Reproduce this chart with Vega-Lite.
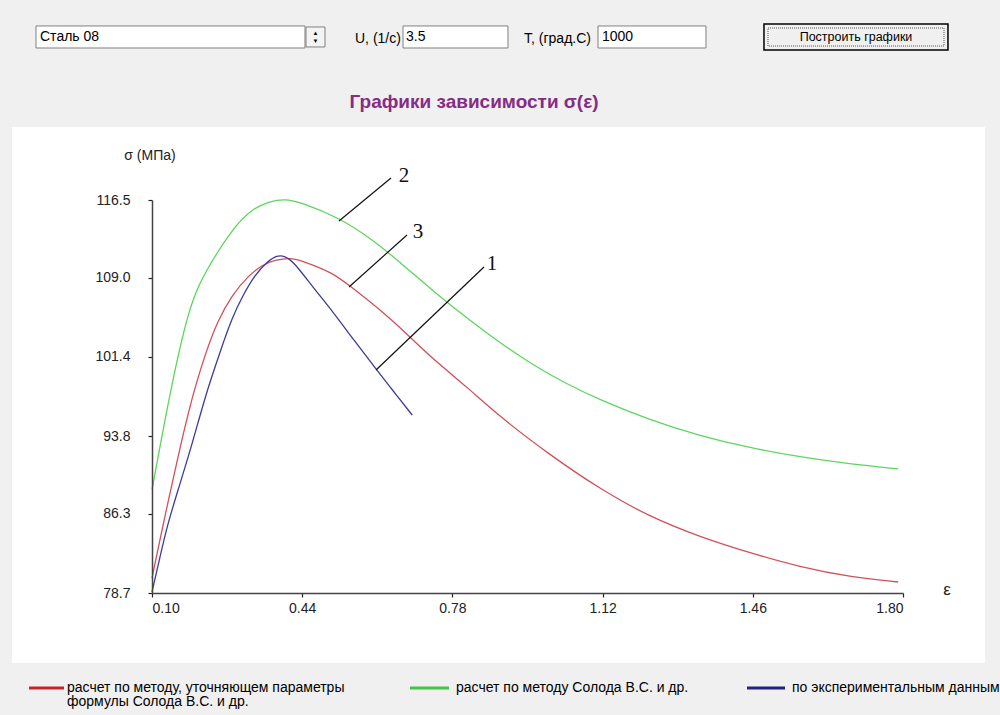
{
  "$schema": "https://vega.github.io/schema/vega-lite/v6.json",
  "width": 751,
  "height": 393,
  "autosize": {"type": "none"},
  "padding": {"left": 152, "top": 200, "right": 97, "bottom": 122},
  "background": "#f0f0f0",
  "config": {"view": {"stroke": null}, "font": "Liberation Sans"},
  "data": {"values": [{}]},
  "datasets": {
    "curves": [
      {"curve": "2", "eps": 0.100, "sigma": 88.61},
      {"curve": "2", "eps": 0.1136, "sigma": 91.78},
      {"curve": "2", "eps": 0.1294, "sigma": 95.34},
      {"curve": "2", "eps": 0.1453, "sigma": 98.80},
      {"curve": "2", "eps": 0.1634, "sigma": 102.36},
      {"curve": "2", "eps": 0.1815, "sigma": 105.44},
      {"curve": "2", "eps": 0.1951, "sigma": 107.17},
      {"curve": "2", "eps": 0.2087, "sigma": 108.52},
      {"curve": "2", "eps": 0.2268, "sigma": 109.96},
      {"curve": "2", "eps": 0.2471, "sigma": 111.40},
      {"curve": "2", "eps": 0.2879, "sigma": 114.00},
      {"curve": "2", "eps": 0.3264, "sigma": 115.63},
      {"curve": "2", "eps": 0.3671, "sigma": 116.40},
      {"curve": "2", "eps": 0.4011, "sigma": 116.60},
      {"curve": "2", "eps": 0.435, "sigma": 116.31},
      {"curve": "2", "eps": 0.526, "sigma": 114.77},
      {"curve": "2", "eps": 0.600, "sigma": 112.65},
      {"curve": "2", "eps": 0.661, "sigma": 110.54},
      {"curve": "2", "eps": 0.736, "sigma": 107.75},
      {"curve": "2", "eps": 0.813, "sigma": 105.15},
      {"curve": "2", "eps": 0.888, "sigma": 102.75},
      {"curve": "2", "eps": 0.962, "sigma": 100.63},
      {"curve": "2", "eps": 1.039, "sigma": 98.80},
      {"curve": "2", "eps": 1.114, "sigma": 97.26},
      {"curve": "2", "eps": 1.227, "sigma": 95.34},
      {"curve": "2", "eps": 1.341, "sigma": 93.80},
      {"curve": "2", "eps": 1.454, "sigma": 92.65},
      {"curve": "2", "eps": 1.567, "sigma": 91.78},
      {"curve": "2", "eps": 1.680, "sigma": 91.11},
      {"curve": "2", "eps": 1.789, "sigma": 90.63},
      {"curve": "3", "eps": 0.100, "sigma": 80.14},
      {"curve": "3", "eps": 0.1136, "sigma": 82.93},
      {"curve": "3", "eps": 0.1294, "sigma": 86.11},
      {"curve": "3", "eps": 0.1453, "sigma": 89.18},
      {"curve": "3", "eps": 0.1634, "sigma": 92.65},
      {"curve": "3", "eps": 0.1815, "sigma": 95.92},
      {"curve": "3", "eps": 0.1996, "sigma": 98.80},
      {"curve": "3", "eps": 0.2200, "sigma": 101.59},
      {"curve": "3", "eps": 0.2471, "sigma": 104.77},
      {"curve": "3", "eps": 0.2811, "sigma": 107.36},
      {"curve": "3", "eps": 0.3173, "sigma": 109.19},
      {"curve": "3", "eps": 0.3490, "sigma": 110.25},
      {"curve": "3", "eps": 0.3784, "sigma": 110.73},
      {"curve": "3", "eps": 0.4124, "sigma": 110.92},
      {"curve": "3", "eps": 0.435, "sigma": 110.73},
      {"curve": "3", "eps": 0.510, "sigma": 109.50},
      {"curve": "3", "eps": 0.548, "sigma": 108.23},
      {"curve": "3", "eps": 0.623, "sigma": 105.73},
      {"curve": "3", "eps": 0.684, "sigma": 103.33},
      {"curve": "3", "eps": 0.736, "sigma": 101.20},
      {"curve": "3", "eps": 0.813, "sigma": 98.51},
      {"curve": "3", "eps": 0.888, "sigma": 95.63},
      {"curve": "3", "eps": 1.001, "sigma": 91.97},
      {"curve": "3", "eps": 1.114, "sigma": 88.70},
      {"curve": "3", "eps": 1.227, "sigma": 86.01},
      {"curve": "3", "eps": 1.341, "sigma": 84.09},
      {"curve": "3", "eps": 1.454, "sigma": 82.55},
      {"curve": "3", "eps": 1.567, "sigma": 81.20},
      {"curve": "3", "eps": 1.680, "sigma": 80.24},
      {"curve": "3", "eps": 1.789, "sigma": 79.76},
      {"curve": "1", "eps": 0.100, "sigma": 78.80},
      {"curve": "1", "eps": 0.118, "sigma": 82.16},
      {"curve": "1", "eps": 0.136, "sigma": 85.43},
      {"curve": "1", "eps": 0.159, "sigma": 88.61},
      {"curve": "1", "eps": 0.182, "sigma": 91.78},
      {"curve": "1", "eps": 0.204, "sigma": 95.05},
      {"curve": "1", "eps": 0.225, "sigma": 98.22},
      {"curve": "1", "eps": 0.254, "sigma": 101.88},
      {"curve": "1", "eps": 0.281, "sigma": 105.15},
      {"curve": "1", "eps": 0.306, "sigma": 107.36},
      {"curve": "1", "eps": 0.333, "sigma": 109.29},
      {"curve": "1", "eps": 0.360, "sigma": 110.54},
      {"curve": "1", "eps": 0.383, "sigma": 111.20},
      {"curve": "1", "eps": 0.401, "sigma": 111.10},
      {"curve": "1", "eps": 0.419, "sigma": 110.63},
      {"curve": "1", "eps": 0.464, "sigma": 108.13},
      {"curve": "1", "eps": 0.510, "sigma": 105.73},
      {"curve": "1", "eps": 0.555, "sigma": 103.13},
      {"curve": "1", "eps": 0.609, "sigma": 100.15},
      {"curve": "1", "eps": 0.646, "sigma": 98.13},
      {"curve": "1", "eps": 0.689, "sigma": 95.82}
    ],
    "leaders": [
      {"label": "2", "x1": 0.5233, "y1": 114.48, "x2": 0.641, "y2": 118.62, "lx": 0.6704, "ly": 118.81},
      {"label": "3", "x1": 0.5459, "y1": 108.13, "x2": 0.6772, "y2": 113.13, "lx": 0.7021, "ly": 113.42},
      {"label": "1", "x1": 0.6071, "y1": 100.15, "x2": 0.8515, "y2": 110.06, "lx": 0.8696, "ly": 110.34}
    ]
  },
  "layer": [
    {
      "mark": {"type": "rect", "color": "white"},
      "encoding": {
        "x": {"datum": -0.2169, "type": "quantitative", "scale": {"domain": [0.1, 1.8], "nice": false, "zero": false}},
        "x2": {"datum": 1.9856},
        "y": {"datum": 123.52, "type": "quantitative", "scale": {"domain": [78.7, 116.5], "nice": false, "zero": false}},
        "y2": {"datum": 71.97}
      }
    },
    {
      "mark": {"type": "rect", "fill": "white", "stroke": "#808080", "strokeWidth": 1},
      "encoding": {
        "x": {"datum": -0.1626, "type": "quantitative", "scale": {"domain": [0.1, 1.8], "nice": false, "zero": false}},
        "x2": {"datum": 0.4463},
        "y": {"datum": 133.24, "type": "quantitative", "scale": {"domain": [78.7, 116.5], "nice": false, "zero": false}},
        "y2": {"datum": 131.12}
      }
    },
    {
      "mark": {"type": "rect", "fill": "#f4f4f4", "stroke": "#808080", "strokeWidth": 1},
      "encoding": {
        "x": {"datum": 0.4486, "type": "quantitative", "scale": {"domain": [0.1, 1.8], "nice": false, "zero": false}},
        "x2": {"datum": 0.4916},
        "y": {"datum": 133.14, "type": "quantitative", "scale": {"domain": [78.7, 116.5], "nice": false, "zero": false}},
        "y2": {"datum": 131.22}
      }
    },
    {
      "mark": {"type": "rect", "fill": "white", "stroke": "#808080", "strokeWidth": 1},
      "encoding": {
        "x": {"datum": 0.6682, "type": "quantitative", "scale": {"domain": [0.1, 1.8], "nice": false, "zero": false}},
        "x2": {"datum": 0.9058},
        "y": {"datum": 133.24, "type": "quantitative", "scale": {"domain": [78.7, 116.5], "nice": false, "zero": false}},
        "y2": {"datum": 131.12}
      }
    },
    {
      "mark": {"type": "rect", "fill": "white", "stroke": "#808080", "strokeWidth": 1},
      "encoding": {
        "x": {"datum": 1.1096, "type": "quantitative", "scale": {"domain": [0.1, 1.8], "nice": false, "zero": false}},
        "x2": {"datum": 1.354},
        "y": {"datum": 133.24, "type": "quantitative", "scale": {"domain": [78.7, 116.5], "nice": false, "zero": false}},
        "y2": {"datum": 131.12}
      }
    },
    {
      "mark": {"type": "rect", "fill": "#f0f0f0", "stroke": "#000000", "strokeWidth": 1.5},
      "encoding": {
        "x": {"datum": 1.4853, "type": "quantitative", "scale": {"domain": [0.1, 1.8], "nice": false, "zero": false}},
        "x2": {"datum": 1.9018},
        "y": {"datum": 133.43, "type": "quantitative", "scale": {"domain": [78.7, 116.5], "nice": false, "zero": false}},
        "y2": {"datum": 130.93}
      }
    },
    {
      "mark": {"type": "rect", "fill": null, "stroke": "#555555", "strokeWidth": 1, "strokeDash": [1, 1]},
      "encoding": {
        "x": {"datum": 1.4944, "type": "quantitative", "scale": {"domain": [0.1, 1.8], "nice": false, "zero": false}},
        "x2": {"datum": 1.8928},
        "y": {"datum": 133.04, "type": "quantitative", "scale": {"domain": [78.7, 116.5], "nice": false, "zero": false}},
        "y2": {"datum": 131.31}
      }
    },
    {
      "mark": {"type": "text", "text": "Сталь 08", "align": "left", "baseline": "middle", "fontSize": 14, "color": "#000000"},
      "encoding": {
        "x": {"datum": -0.1535, "type": "quantitative", "scale": {"domain": [0.1, 1.8], "nice": false, "zero": false}},
        "y": {"datum": 132.18, "type": "quantitative", "scale": {"domain": [78.7, 116.5], "nice": false, "zero": false}}
      }
    },
    {
      "mark": {"type": "text", "text": "▲", "align": "center", "baseline": "middle", "fontSize": 6, "color": "#000000"},
      "encoding": {
        "x": {"datum": 0.4701, "type": "quantitative", "scale": {"domain": [0.1, 1.8], "nice": false, "zero": false}},
        "y": {"datum": 132.56, "type": "quantitative", "scale": {"domain": [78.7, 116.5], "nice": false, "zero": false}}
      }
    },
    {
      "mark": {"type": "text", "text": "▼", "align": "center", "baseline": "middle", "fontSize": 6, "color": "#000000"},
      "encoding": {
        "x": {"datum": 0.4701, "type": "quantitative", "scale": {"domain": [0.1, 1.8], "nice": false, "zero": false}},
        "y": {"datum": 131.79, "type": "quantitative", "scale": {"domain": [78.7, 116.5], "nice": false, "zero": false}}
      }
    },
    {
      "mark": {"type": "text", "text": "U, (1/с)", "align": "left", "baseline": "middle", "fontSize": 14, "color": "#000000"},
      "encoding": {
        "x": {"datum": 0.5595, "type": "quantitative", "scale": {"domain": [0.1, 1.8], "nice": false, "zero": false}},
        "y": {"datum": 131.99, "type": "quantitative", "scale": {"domain": [78.7, 116.5], "nice": false, "zero": false}}
      }
    },
    {
      "mark": {"type": "text", "text": "3.5", "align": "left", "baseline": "middle", "fontSize": 14, "color": "#000000"},
      "encoding": {
        "x": {"datum": 0.675, "type": "quantitative", "scale": {"domain": [0.1, 1.8], "nice": false, "zero": false}},
        "y": {"datum": 132.18, "type": "quantitative", "scale": {"domain": [78.7, 116.5], "nice": false, "zero": false}}
      }
    },
    {
      "mark": {"type": "text", "text": "T, (град.С)", "align": "left", "baseline": "middle", "fontSize": 14, "color": "#000000"},
      "encoding": {
        "x": {"datum": 0.9421, "type": "quantitative", "scale": {"domain": [0.1, 1.8], "nice": false, "zero": false}},
        "y": {"datum": 131.99, "type": "quantitative", "scale": {"domain": [78.7, 116.5], "nice": false, "zero": false}}
      }
    },
    {
      "mark": {"type": "text", "text": "1000", "align": "left", "baseline": "middle", "fontSize": 14, "color": "#000000"},
      "encoding": {
        "x": {"datum": 1.1186, "type": "quantitative", "scale": {"domain": [0.1, 1.8], "nice": false, "zero": false}},
        "y": {"datum": 132.18, "type": "quantitative", "scale": {"domain": [78.7, 116.5], "nice": false, "zero": false}}
      }
    },
    {
      "mark": {"type": "text", "text": "Построить графики", "align": "center", "baseline": "middle", "fontSize": 12.5, "color": "#000000"},
      "encoding": {
        "x": {"datum": 1.6936, "type": "quantitative", "scale": {"domain": [0.1, 1.8], "nice": false, "zero": false}},
        "y": {"datum": 132.18, "type": "quantitative", "scale": {"domain": [78.7, 116.5], "nice": false, "zero": false}}
      }
    },
    {
      "mark": {"type": "text", "text": "Графики зависимости σ(ε)", "align": "center", "baseline": "middle", "fontSize": 19, "fontWeight": "bold", "color": "#862b86"},
      "encoding": {
        "x": {"datum": 0.8289, "type": "quantitative", "scale": {"domain": [0.1, 1.8], "nice": false, "zero": false}},
        "y": {"datum": 125.93, "type": "quantitative", "scale": {"domain": [78.7, 116.5], "nice": false, "zero": false}}
      }
    },
    {
      "mark": {"type": "text", "text": "σ (МПа)", "align": "center", "baseline": "middle", "fontSize": 14, "color": "#222222"},
      "encoding": {
        "x": {"datum": 0.0955, "type": "quantitative", "scale": {"domain": [0.1, 1.8], "nice": false, "zero": false}},
        "y": {"datum": 120.73, "type": "quantitative", "scale": {"domain": [78.7, 116.5], "nice": false, "zero": false}}
      }
    },
    {
      "mark": {"type": "text", "text": "ε", "align": "center", "baseline": "middle", "fontSize": 17, "color": "#222222"},
      "encoding": {
        "x": {"datum": 1.8996, "type": "quantitative", "scale": {"domain": [0.1, 1.8], "nice": false, "zero": false}},
        "y": {"datum": 79.0, "type": "quantitative", "scale": {"domain": [78.7, 116.5], "nice": false, "zero": false}}
      }
    },
    {
      "data": {"name": "curves"},
      "mark": {"type": "line", "strokeWidth": 1.3, "interpolate": "basis"},
      "encoding": {
        "x": {"field": "eps", "type": "quantitative", "scale": {"domain": [0.1, 1.8], "nice": false, "zero": false},
          "axis": {"title": null, "values": [0.1, 0.44, 0.78, 1.12, 1.46, 1.8], "format": ".2f", "grid": false, "zindex": 1,
            "domainColor": "#444444", "domainWidth": 1.5, "tickColor": "#222222", "tickSize": 4, "tickWidth": 1.2,
            "labelFontSize": 14, "labelColor": "#222222", "labelPadding": 4, "labelFont": "Liberation Sans"}},
        "y": {"field": "sigma", "type": "quantitative", "scale": {"domain": [78.7, 116.5], "nice": false, "zero": false},
          "axis": {"title": null, "values": [78.7, 86.3, 93.8, 101.4, 109.0, 116.5], "format": ".1f", "grid": false, "zindex": 1,
            "domainColor": "#444444", "domainWidth": 1.5, "tickColor": "#222222", "tickSize": 4, "tickWidth": 1.2,
            "labelFontSize": 14, "labelColor": "#222222", "labelPadding": 18, "labelFont": "Liberation Sans"}},
        "color": {"field": "curve", "type": "nominal", "scale": {"domain": ["3", "2", "1"], "range": ["#d0505a", "#5cd65c", "#3c3c9a"]}, "legend": null},
        "detail": {"field": "curve"}
      }
    },
    {
      "data": {"name": "leaders"},
      "mark": {"type": "rule", "color": "#111111", "strokeWidth": 1.2},
      "encoding": {
        "x": {"field": "x1", "type": "quantitative", "scale": {"domain": [0.1, 1.8], "nice": false, "zero": false}},
        "y": {"field": "y1", "type": "quantitative", "scale": {"domain": [78.7, 116.5], "nice": false, "zero": false}},
        "x2": {"field": "x2"},
        "y2": {"field": "y2"}
      }
    },
    {
      "data": {"name": "leaders"},
      "mark": {"type": "text", "font": "Liberation Serif", "fontSize": 21, "color": "#111111", "align": "center", "baseline": "middle"},
      "encoding": {
        "x": {"field": "lx", "type": "quantitative", "scale": {"domain": [0.1, 1.8], "nice": false, "zero": false}},
        "y": {"field": "ly", "type": "quantitative", "scale": {"domain": [78.7, 116.5], "nice": false, "zero": false}},
        "text": {"field": "label"}
      }
    },
    {
      "mark": {"type": "rule", "color": "#c8202c", "strokeWidth": 3},
      "encoding": {
        "x": {"datum": -0.1784, "type": "quantitative", "scale": {"domain": [0.1, 1.8], "nice": false, "zero": false}},
        "x2": {"datum": -0.0992},
        "y": {"datum": 69.56, "type": "quantitative", "scale": {"domain": [78.7, 116.5], "nice": false, "zero": false}}
      }
    },
    {
      "mark": {"type": "rule", "color": "#44c444", "strokeWidth": 3},
      "encoding": {
        "x": {"datum": 0.684, "type": "quantitative", "scale": {"domain": [0.1, 1.8], "nice": false, "zero": false}},
        "x2": {"datum": 0.7723},
        "y": {"datum": 69.56, "type": "quantitative", "scale": {"domain": [78.7, 116.5], "nice": false, "zero": false}}
      }
    },
    {
      "mark": {"type": "rule", "color": "#23237f", "strokeWidth": 3},
      "encoding": {
        "x": {"datum": 1.4469, "type": "quantitative", "scale": {"domain": [0.1, 1.8], "nice": false, "zero": false}},
        "x2": {"datum": 1.5329},
        "y": {"datum": 69.56, "type": "quantitative", "scale": {"domain": [78.7, 116.5], "nice": false, "zero": false}}
      }
    },
    {
      "mark": {"type": "text", "text": ["расчет по методу, уточняющем параметры", "формулы Солода В.С. и др."], "lineHeight": 14, "align": "left", "baseline": "top", "fontSize": 14, "color": "#000000"},
      "encoding": {
        "x": {"datum": -0.0924, "type": "quantitative", "scale": {"domain": [0.1, 1.8], "nice": false, "zero": false}},
        "y": {"datum": 70.28, "type": "quantitative", "scale": {"domain": [78.7, 116.5], "nice": false, "zero": false}}
      }
    },
    {
      "mark": {"type": "text", "text": "расчет по методу Солода В.С. и др.", "align": "left", "baseline": "middle", "fontSize": 14, "color": "#000000"},
      "encoding": {
        "x": {"datum": 0.7881, "type": "quantitative", "scale": {"domain": [0.1, 1.8], "nice": false, "zero": false}},
        "y": {"datum": 69.56, "type": "quantitative", "scale": {"domain": [78.7, 116.5], "nice": false, "zero": false}}
      }
    },
    {
      "mark": {"type": "text", "text": "по экспериментальным данным", "align": "left", "baseline": "middle", "fontSize": 14, "color": "#000000"},
      "encoding": {
        "x": {"datum": 1.5487, "type": "quantitative", "scale": {"domain": [0.1, 1.8], "nice": false, "zero": false}},
        "y": {"datum": 69.56, "type": "quantitative", "scale": {"domain": [78.7, 116.5], "nice": false, "zero": false}}
      }
    }
  ]
}
